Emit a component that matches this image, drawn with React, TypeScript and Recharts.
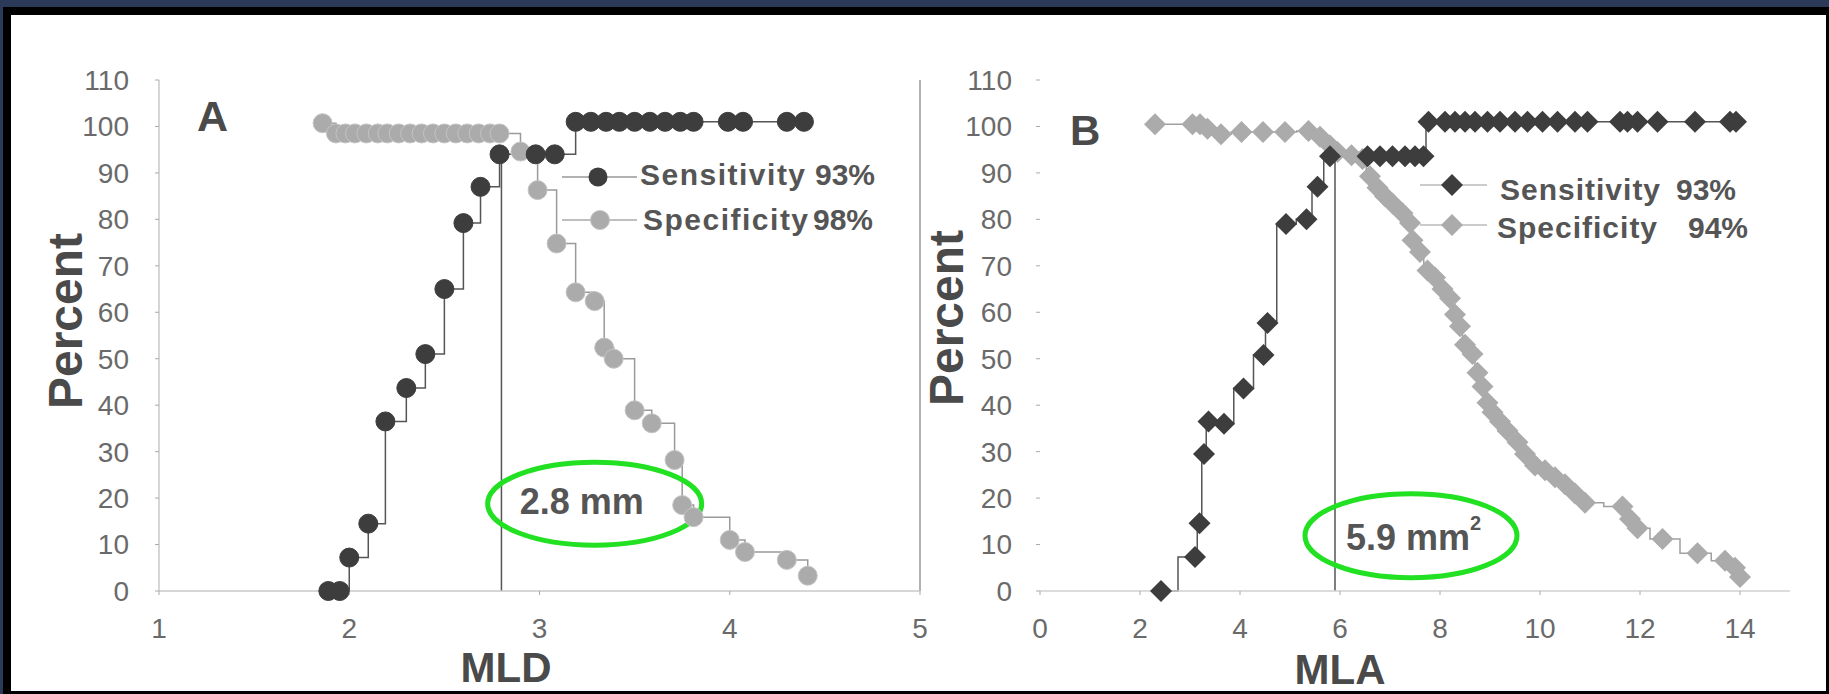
import React from 'react';
import { LineChart, Line, XAxis, YAxis, ReferenceLine, ReferenceDot, Legend } from 'recharts';

const FONT = '"Liberation Sans", Arial, Helvetica, sans-serif';

// ---------- shared ----------
const percentTicks = [0, 10, 20, 30, 40, 50, 60, 70, 80, 90, 100, 110];

// ---------- Panel A : MLD ----------
const mldTicks = [1, 2, 3, 4, 5];
const mldSensX = [1.89, 1.95, 2.0, 2.1, 2.19, 2.3, 2.4, 2.5, 2.6, 2.69, 2.79, 2.98, 3.08, 3.19, 3.27, 3.35, 3.42, 3.5, 3.58, 3.66, 3.74, 3.81, 3.99, 4.07, 4.3, 4.39];
const mldSensY = [0, 0, 7.2, 14.5, 36.5, 43.7, 51, 65, 79.2, 87, 94, 94, 94, 101, 101, 101, 101, 101, 101, 101, 101, 101, 101, 101, 101, 101];
const mldSpecX = [1.86, 1.93, 1.98, 2.03, 2.09, 2.15, 2.2, 2.26, 2.32, 2.38, 2.44, 2.5, 2.56, 2.62, 2.68, 2.74, 2.79, 2.9, 2.99, 3.09, 3.19, 3.29, 3.34, 3.39, 3.5, 3.59, 3.71, 3.75, 3.81, 4.0, 4.08, 4.3, 4.41];
const mldSpecY = [100.7, 98.5, 98.5, 98.5, 98.5, 98.5, 98.5, 98.5, 98.5, 98.5, 98.5, 98.5, 98.5, 98.5, 98.5, 98.5, 98.5, 94.6, 86.3, 74.8, 64.3, 62.4, 52.4, 50, 38.9, 36.1, 28.2, 18.5, 15.9, 11, 8.4, 6.7, 3.3];
const mldCutoff = 2.8;

// ---------- Panel B : MLA ----------
const mlaTicks = [0, 2, 4, 6, 8, 10, 12, 14];
const mlaSensX = [2.42, 3.1, 3.19, 3.28, 3.37, 3.68, 4.07, 4.47, 4.55, 4.92, 5.33, 5.55, 5.8, 6.55, 6.8, 7.05, 7.3, 7.5, 7.67, 7.77, 8.1, 8.3, 8.5, 8.7, 8.95, 9.2, 9.5, 9.75, 10.05, 10.35, 10.7, 10.95, 11.6, 11.75, 11.95, 12.35, 13.1, 13.8, 13.92];
const mlaSensY = [0, 7.3, 14.6, 29.5, 36.5, 36, 43.6, 50.8, 57.7, 79, 80, 87, 93.6, 93.6, 93.6, 93.6, 93.6, 93.6, 93.6, 101, 101, 101, 101, 101, 101, 101, 101, 101, 101, 101, 101, 101, 101, 101, 101, 101, 101, 101, 101];
const mlaSpecX = [2.3, 3.05, 3.2, 3.35, 3.62, 4.03, 4.46, 4.9, 5.37, 5.6, 5.8, 5.95, 6.23, 6.45, 6.6, 6.75, 6.9, 7.05, 7.25, 7.4, 7.45, 7.6, 7.75, 7.9, 8.05, 8.2, 8.3, 8.4, 8.5, 8.65, 8.75, 8.85, 8.95, 9.05, 9.2, 9.35, 9.55, 9.7, 9.9, 10.1, 10.3, 10.5, 10.7, 10.9, 11.65, 11.8, 11.95, 12.45, 13.15, 13.7, 13.9, 14.0];
const mlaSpecY = [100.5, 100.5, 100.5, 99.5, 98.3, 98.8, 98.8, 98.8, 99, 97.8, 95.9, 94.5, 93.8, 93, 89.3, 86.8, 85, 83.4, 81.3, 79.2, 75.5, 73, 69, 67.5, 65, 63, 59.5, 57, 53, 51, 47, 44, 40.5, 38.5, 36.5, 34.5, 32, 29.5, 27, 26, 24.5, 23, 21, 19, 18.2, 15.5, 13.5, 11.2, 8.1, 6.5, 5, 3];
const mlaCutoff = 5.9;

const toPoints = (xs: number[], ys: number[]) => xs.map((x, i) => ({ x, y: ys[i] }));
const mldSens = toPoints(mldSensX, mldSensY);
const mldSpec = toPoints(mldSpecX, mldSpecY);
const mlaSens = toPoints(mlaSensX, mlaSensY);
const mlaSpec = toPoints(mlaSpecX, mlaSpecY);

const SENS_FILL = '#3d3d3d';
const SPEC_FILL = '#ababab';
const GREEN = '#22e022';
const TICK_COLOR = '#6a6a6a';
const TITLE_COLOR = '#4a4a4a';

const circleDot = (fill: string, stroke: string) => (props: any) => {
  const { cx, cy, index } = props;
  if (cx == null || cy == null) return <g key={`n${index}`} />;
  return <circle key={`c${index}`} cx={cx} cy={cy} r={9.5} fill={fill} stroke={stroke} strokeWidth={1} />;
};
const diamondDot = (fill: string) => (props: any) => {
  const { cx, cy, index } = props;
  if (cx == null || cy == null) return <g key={`n${index}`} />;
  const s = 11;
  return <path key={`d${index}`} d={`M${cx},${cy - s}L${cx + s},${cy}L${cx},${cy + s}L${cx - s},${cy}Z`} fill={fill} />;
};

const tickStyle = { fontSize: 28, fill: TICK_COLOR, fontFamily: FONT };
const legendText = { fontSize: 30, fontWeight: 700, fill: '#555', fontFamily: FONT };

const legendA = () => (
  <svg width={340} height={95} style={{ display: 'block', overflow: 'visible' }}>
    <line x1={7} x2={82} y1={22} y2={22} stroke="#999" strokeWidth={1.5} />
    <circle cx={43} cy={22} r={9.5} fill={SENS_FILL} />
    <text x={85} y={30} {...legendText} letterSpacing={1.5}>Sensitivity</text>
    <text x={260} y={30} {...legendText}>93%</text>
    <line x1={7} x2={82} y1={65} y2={65} stroke="#aaa" strokeWidth={1.5} />
    <circle cx={45} cy={65} r={9.5} fill={SPEC_FILL} stroke="#c4c4c4" />
    <text x={88} y={75} {...legendText} letterSpacing={1.5}>Specificity</text>
    <text x={258} y={75} {...legendText}>98%</text>
  </svg>
);

const legendB = () => {
  const s = 11;
  return (
    <svg width={360} height={95} style={{ display: 'block', overflow: 'visible' }}>
      <line x1={10} x2={77} y1={25} y2={25} stroke="#bbb" strokeWidth={1.5} />
      <path d={`M42,${25 - s}L${42 + s},25L42,${25 + s}L${42 - s},25Z`} fill={SENS_FILL} />
      <text x={90} y={40} {...legendText} letterSpacing={1}>Sensitivity</text>
      <text x={266} y={40} {...legendText}>93%</text>
      <line x1={10} x2={77} y1={65} y2={65} stroke="#bbb" strokeWidth={1.5} />
      <path d={`M42,${65 - s}L${42 + s},65L42,${65 + s}L${42 - s},65Z`} fill={SPEC_FILL} />
      <text x={87} y={78} {...legendText} letterSpacing={1}>Specificity</text>
      <text x={278} y={78} {...legendText}>94%</text>
    </svg>
  );
};

const ellipseA = (p: any) => (
  <g>
    <ellipse cx={p.cx} cy={p.cy} rx={107} ry={41.5} fill="none" stroke={GREEN} strokeWidth={5} />
    <text x={p.cx - 75} y={p.cy + 10} fontSize={36} fontWeight={700} fill="#555" fontFamily={FONT}>2.8 mm</text>
  </g>
);
const ellipseB = (p: any) => (
  <g>
    <ellipse cx={p.cx} cy={p.cy} rx={106} ry={42} fill="none" stroke={GREEN} strokeWidth={5} />
    <text x={p.cx - 65} y={p.cy + 14} fontSize={36} fontWeight={700} fill="#555" fontFamily={FONT}>
      5.9 mm<tspan dy={-20} fontSize={20}>2</tspan>
    </text>
  </g>
);

const yLabelA = () => (
  <g>
    <text x={82} y={321} transform="rotate(-90 82 321)" textAnchor="middle" fontSize={48} fontWeight={700} fill={TITLE_COLOR} fontFamily={FONT}>Percent</text>
    <text x={197} y={131} fontSize={43} fontWeight={700} fill={TITLE_COLOR} fontFamily={FONT}>A</text>
  </g>
);
const yLabelB = () => (
  <g>
    <text x={43} y={318} transform="rotate(-90 43 318)" textAnchor="middle" fontSize={48} fontWeight={700} fill={TITLE_COLOR} fontFamily={FONT}>Percent</text>
    <text x={150} y={145} fontSize={42} fontWeight={700} fill={TITLE_COLOR} fontFamily={FONT}>B</text>
  </g>
);
const xLabelA = () => (
  <text x={506} y={682} textAnchor="middle" fontSize={42} fontWeight={700} fill={TITLE_COLOR} fontFamily={FONT}>MLD</text>
);
const xLabelB = () => (
  <text x={420} y={684} textAnchor="middle" fontSize={42} fontWeight={700} fill={TITLE_COLOR} fontFamily={FONT}>MLA</text>
);

export default function App() {
  return (
    <div style={{ position: 'relative', width: 1829, height: 694, background: '#2a3a58', overflow: 'hidden' }}>
      <style>{`body{margin:0}`}</style>
      <div style={{ position: 'absolute', left: 3, top: 7, right: 0, bottom: 0, background: '#000' }} />
      <div style={{ position: 'absolute', left: 11, top: 15, right: 3, bottom: 3, background: '#fff' }} />

      <div style={{ position: 'absolute', left: 0, top: 0 }}>
        <LineChart width={1000} height={694} margin={{ top: 80, right: 80, bottom: 43, left: 59 }}>
          <XAxis type="number" dataKey="x" domain={[1, 5]} ticks={mldTicks} allowDataOverflow height={60}
            tickSize={4} tickMargin={23} tick={tickStyle} axisLine={{ stroke: '#c8c8c8', strokeWidth: 1.5 }}
            tickLine={{ stroke: '#aaa' }} label={xLabelA} />
          <YAxis type="number" domain={[0, 110]} ticks={percentTicks} width={100} tickSize={4} tickMargin={26}
            tick={tickStyle} axisLine={{ stroke: '#c8c8c8', strokeWidth: 1.5 }} tickLine={{ stroke: '#aaa' }} label={yLabelA} />
          <ReferenceLine x={5} stroke="#999" strokeWidth={1.5} />
          <ReferenceLine segment={[{ x: mldCutoff, y: 0 }, { x: mldCutoff, y: 94 }]} stroke="#555" strokeWidth={1.5} />
          <Line data={mldSpec} dataKey="y" name="Specificity 98%" type="stepAfter" stroke="#9a9a9a" strokeWidth={1.5}
            dot={circleDot(SPEC_FILL, '#c4c4c4')} activeDot={false} isAnimationActive={false} />
          <Line data={mldSens} dataKey="y" name="Sensitivity 93%" type="stepAfter" stroke="#555" strokeWidth={1.5}
            dot={circleDot(SENS_FILL, SENS_FILL)} activeDot={false} isAnimationActive={false} />
          <ReferenceDot x={3.29} y={18.8} r={0} shape={ellipseA} />
          <Legend layout="vertical" align="center" verticalAlign="middle" content={legendA}
            wrapperStyle={{ left: 555, top: 155, width: 340, height: 95 }} />
        </LineChart>
      </div>

      <div style={{ position: 'absolute', left: 920, top: 0 }}>
        <LineChart width={909} height={694} margin={{ top: 80, right: 39, bottom: 43, left: 20 }}>
          <XAxis type="number" dataKey="x" domain={[0, 15]} ticks={mlaTicks} allowDataOverflow height={60}
            tickSize={4} tickMargin={23} tick={tickStyle} axisLine={{ stroke: '#d0d0d0', strokeWidth: 1.5 }}
            tickLine={{ stroke: '#aaa' }} label={xLabelB} />
          <YAxis type="number" domain={[0, 110]} ticks={percentTicks} width={100} tickSize={4} tickMargin={24}
            tick={tickStyle} axisLine={false} tickLine={{ stroke: '#aaa' }} label={yLabelB} />
          <ReferenceLine segment={[{ x: mlaCutoff, y: 0 }, { x: mlaCutoff, y: 93.6 }]} stroke="#555" strokeWidth={1.5} />
          <Line data={mlaSpec} dataKey="y" name="Specificity 94%" type="step" stroke="#a0a0a0" strokeWidth={1.5}
            dot={diamondDot(SPEC_FILL)} activeDot={false} isAnimationActive={false} />
          <Line data={mlaSens} dataKey="y" name="Sensitivity 93%" type="step" stroke="#555" strokeWidth={1.5}
            dot={diamondDot(SENS_FILL)} activeDot={false} isAnimationActive={false} />
          <ReferenceDot x={7.42} y={11.9} r={0} shape={ellipseB} />
          <Legend layout="vertical" align="center" verticalAlign="middle" content={legendB}
            wrapperStyle={{ left: 490, top: 160, width: 360, height: 95 }} />
        </LineChart>
      </div>
    </div>
  );
}
